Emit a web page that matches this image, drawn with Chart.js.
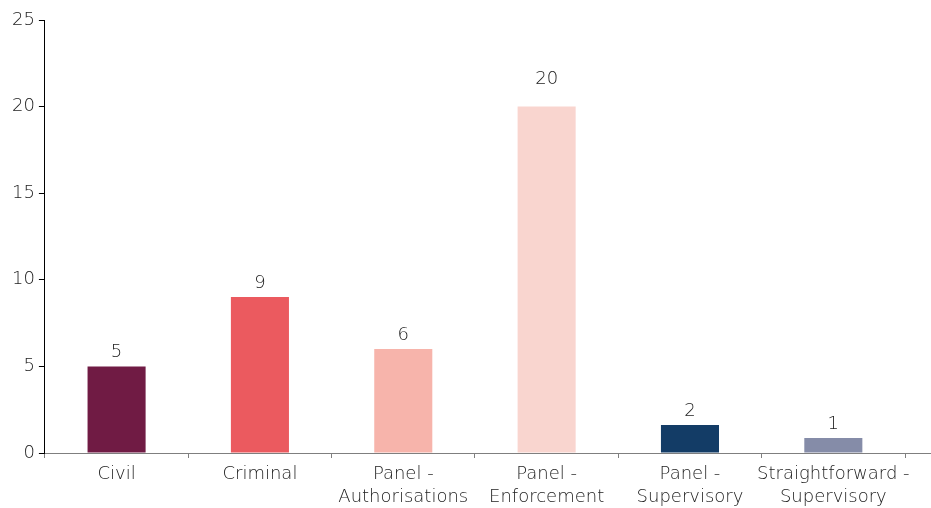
<!DOCTYPE html>
<html>
<head>
<meta charset="utf-8">
<script src="https://cdn.jsdelivr.net/npm/chart.js@4/dist/chart.umd.min.js"></script>
<style>
  html, body { margin: 0; padding: 0; background: #fff; }
  #wrap { width: 931px; height: 508px; }
</style>
</head>
<body>
<div id="wrap"><canvas id="chart"></canvas></div>
<script>
const categories = [
  ['Civil'],
  ['Criminal'],
  ['Panel -', 'Authorisations'],
  ['Panel -', 'Enforcement'],
  ['Panel -', 'Supervisory'],
  ['Straightforward -', 'Supervisory']
];
const values = [5, 9, 6, 20, 1.62, 0.87];
const valueLabels = ['5', '9', '6', '20', '2', '1'];
const barColors = ['#701b44', '#eb5a5f', '#f7b4ab', '#f9d5cf', '#133c66', '#858ca8'];
const yTicks = [0, 5, 10, 15, 20, 25];

const FONT = '"DejaVu Sans", sans-serif';
const TEXT = '#222222';

// numbers above the bars (the 20 sits a bit higher in the original)
const valueLabelPlugin = {
  id: 'valueLabels',
  afterDatasetsDraw(chart) {
    const ctx = chart.ctx;
    const meta = chart.getDatasetMeta(0);
    ctx.save();
    ctx.font = '200 18px ' + FONT;
    ctx.fillStyle = TEXT;
    ctx.textAlign = 'center';
    ctx.textBaseline = 'middle';
    meta.data.forEach((bar, i) => {
      const lift = i === 3 ? 27 : 14;
      ctx.fillText(valueLabels[i], bar.x, bar.y - lift);
    });
    ctx.restore();
  }
};

// x baseline runs on to the right edge of the canvas
const baselinePlugin = {
  id: 'baseline',
  afterDraw(chart) {
    const ctx = chart.ctx;
    const y = chart.scales.y.getPixelForValue(0);
    ctx.save();
    ctx.strokeStyle = '#7f7f7f';
    ctx.lineWidth = 1;
    ctx.beginPath();
    ctx.moveTo(chart.chartArea.right, Math.round(y) + 0.5);
    ctx.lineTo(chart.width, Math.round(y) + 0.5);
    ctx.stroke();
    ctx.restore();
  }
};

new Chart(document.getElementById('chart'), {
  type: 'bar',
  data: {
    labels: categories,
    datasets: [{
      data: values,
      backgroundColor: barColors,
      barPercentage: 1,
      categoryPercentage: 0.405
    }]
  },
  options: {
    responsive: true,
    maintainAspectRatio: false,
    animation: false,
    layout: { padding: { top: 20, right: 26, left: 8, bottom: 0 } },
    plugins: {
      legend: { display: false },
      tooltip: { enabled: false }
    },
    scales: {
      x: {
        afterFit(scale) {
          scale.height = 55;
        },
        grid: {
          drawOnChartArea: false,
          drawTicks: true,
          tickLength: 5,
          color: '#7f7f7f',
          offset: true
        },
        border: { color: '#7f7f7f', width: 1 },
        ticks: {
          color: TEXT,
          font: { family: FONT, size: 18, weight: '200', lineHeight: 1.27 },
          maxRotation: 0,
          autoSkip: false,
          padding: 5
        }
      },
      y: {
        min: 0,
        max: 25,
        afterBuildTicks(scale) {
          scale.ticks = yTicks.map(v => ({ value: v }));
        },
        grid: {
          drawOnChartArea: false,
          drawTicks: true,
          tickLength: 6,
          color: '#000'
        },
        border: { color: '#000', width: 1 },
        ticks: {
          color: TEXT,
          font: { family: FONT, size: 18, weight: '200' },
          padding: 4
        }
      }
    }
  },
  plugins: [valueLabelPlugin, baselinePlugin]
});
</script>
</body>
</html>
